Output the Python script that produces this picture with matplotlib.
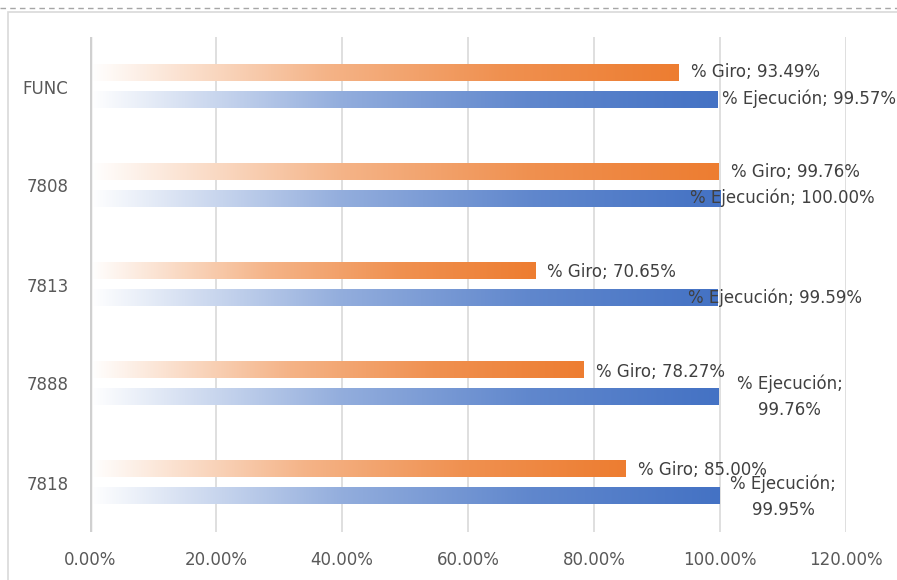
import numpy as np
import matplotlib.pyplot as plt
from matplotlib.colors import LinearSegmentedColormap, to_rgb
from matplotlib.lines import Line2D
from matplotlib.patches import Rectangle

categories = ['FUNC', '7808', '7813', '7888', '7818']
giro = [0.9349, 0.9976, 0.7065, 0.7827, 0.8500]
ejecucion = [0.9957, 1.0000, 0.9959, 0.9976, 0.9995]
giro_labels = ['% Giro; 93.49%', '% Giro; 99.76%', '% Giro; 70.65%',
               '% Giro; 78.27%', '% Giro; 85.00%']
ejec_labels = ['% Ejecución; 99.57%', '% Ejecución; 100.00%', '% Ejecución; 99.59%',
               '% Ejecución;\n99.76%', '% Ejecución;\n99.95%']
x_ticks = [0, 0.2, 0.4, 0.6, 0.8, 1.0, 1.2]

# label placement (x, y, ha) as Excel put them
giro_pos = [(0.954, -0.146, 'left'), (1.017, 0.864, 'left'), (0.725, 1.874, 'left'),
            (0.803, 2.884, 'left'), (0.870, 3.874, 'left')]
ejec_pos = [(1.003, 0.126, 'left'), (0.952, 1.126, 'left'), (0.949, 2.136, 'left'),
            (1.111, 3.136, 'center'), (1.100, 4.146, 'center')]

ORANGE = '#ED7D31'
BLUE = '#4472C4'
TXT = '#404040'


def grad_cmap(color):
    c = np.array(to_rgb(color))
    w = np.ones(3)
    stops = [(0.0, 0.0), (0.15, 0.22), (0.4, 0.58), (0.7, 0.85), (1.0, 1.0)]
    return LinearSegmentedColormap.from_list(
        'g', [(p, tuple(w + (c - w) * a)) for p, a in stops])


fig = plt.figure(figsize=(8.97, 5.8), dpi=100)
ax = fig.add_axes([90 / 897, 1 - 532 / 580, (846 - 90) / 897, (532 - 37) / 580])

grad = np.linspace(0, 1, 256).reshape(1, -1)
h = 0.17
for i in range(len(categories)):
    for val, off, col in [(giro[i], -0.14, ORANGE), (ejecucion[i], 0.13, BLUE)]:
        ax.imshow(grad, cmap=grad_cmap(col), aspect='auto', interpolation='bilinear',
                  extent=[0, val, i + off + h / 2, i + off - h / 2], zorder=2)

for i in range(len(categories)):
    x, y, ha = giro_pos[i]
    ax.text(x, y, giro_labels[i], ha=ha, va='center', fontsize=12, color=TXT, zorder=4)
    x, y, ha = ejec_pos[i]
    ax.text(x, y, ejec_labels[i], ha=ha, va='center', fontsize=12, color=TXT,
            linespacing=1.6, zorder=4)

ax.set_xlim(0, 1.2)
ax.set_ylim(len(categories) - 0.5, -0.5)
ax.set_xticks(x_ticks)
ax.set_xticklabels([f'{t * 100:.2f}%' for t in x_ticks])
ax.set_yticks(range(len(categories)))
ax.set_yticklabels(categories)
ax.tick_params(length=0, labelsize=12, colors='#595959')
ax.tick_params(axis='x', pad=14)
ax.tick_params(axis='y', pad=15.5)
ax.grid(axis='x', color='#D9D9D9', linewidth=1.2, zorder=0)
ax.set_axisbelow(True)
for s in ax.spines.values():
    s.set_visible(False)
ax.axvline(0, color='#D0D0D0', linewidth=2.5, zorder=3)

# chart area border and the dashed cell line above it
fig.add_artist(Rectangle((8 / 897, -0.1), 1.2, 1 - 12 / 580 + 0.1, transform=fig.transFigure,
                         fill=False, edgecolor='#D9D9D9', linewidth=1.2))
fig.add_artist(Line2D([0, 1], [1 - 8 / 580] * 2, transform=fig.transFigure,
                      color='#A6A6A6', linewidth=1, linestyle=(0, (4, 3))))

fig.savefig('out.png', dpi=100)
